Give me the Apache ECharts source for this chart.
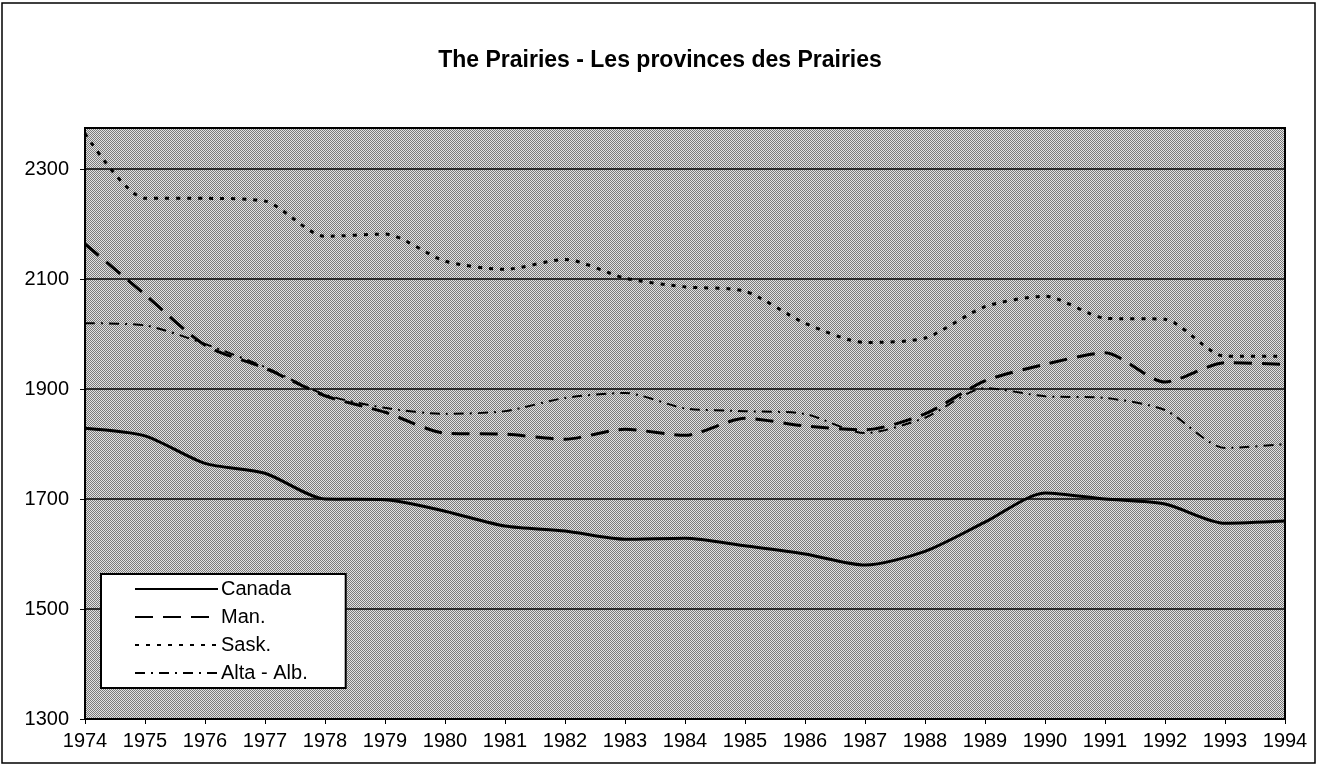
<!DOCTYPE html>
<html>
<head>
<meta charset="utf-8">
<script src="https://cdn.jsdelivr.net/npm/echarts@6/dist/echarts.min.js"></script>
<style>
  html, body { margin: 0; padding: 0; background: #fff; }
  #chart { width: 1320px; height: 777px; }
</style>
</head>
<body>
<div id="chart"></div>
<script>
const years = ['1974', '1975', '1976', '1977', '1978', '1979', '1980', '1981', '1982', '1983', '1984',
  '1985', '1986', '1987', '1988', '1989', '1990', '1991', '1992', '1993', '1994']

const canada = [1829, 1815, 1765, 1747, 1700, 1699, 1678, 1651, 1642, 1627, 1629,
  1615, 1600, 1580, 1605, 1658, 1711, 1700, 1691, 1656, 1660]
const man = [2164, 2072, 1980, 1938, 1888, 1858, 1820, 1818, 1809, 1827, 1816,
  1847, 1833, 1826, 1855, 1915, 1945, 1966, 1913, 1948, 1945]
const sask = [2365, 2247, 2247, 2242, 2178, 2182, 2133, 2118, 2136, 2102, 2086,
  2078, 2020, 1985, 1993, 2050, 2069, 2029, 2027, 1960, 1960]
const alta = [2020, 2016, 1982, 1940, 1890, 1866, 1855, 1860, 1884, 1893, 1865,
  1860, 1855, 1820, 1848, 1902, 1887, 1884, 1862, 1793, 1800]

const yTicks = [1300, 1500, 1700, 1900, 2100, 2300]

// halftone-ish fill for the plot area
function makePattern() {
  const c = document.createElement('canvas')
  c.width = 2
  c.height = 2
  const ctx = c.getContext('2d')
  ctx.fillStyle = '#e2e2e2'
  ctx.fillRect(0, 0, 2, 2)
  ctx.fillStyle = '#7a7a7a'
  ctx.fillRect(0, 0, 1, 1)
  ctx.fillRect(1, 1, 1, 1)
  return c
}

const chart = echarts.init(document.getElementById('chart'))

const font = 'Liberation Sans, Arial, sans-serif'

function lineSeries(name, data, width, type) {
  return {
    name: name,
    type: 'line',
    data: data,
    smooth: 0.25,
    symbol: 'none',
    lineStyle: { color: '#000', width: width, type: type },
    itemStyle: { color: '#000' },
    z: 3
  }
}

chart.setOption({
  animation: false,
  backgroundColor: '#fff',
  title: {
    text: 'The Prairies - Les provinces des Prairies',
    left: 'center',
    top: 44,
    textStyle: { fontFamily: font, fontSize: 23, fontWeight: 'bold', color: '#000' }
  },
  graphic: [{
    type: 'rect',
    shape: { x: 2, y: 3, width: 1313, height: 760 },
    style: { fill: 'none', stroke: '#000', lineWidth: 1.5 },
    silent: true
  }],
  legend: {
    orient: 'vertical',
    left: 101,
    top: 574,
    padding: [5, 38, 5, 33],
    itemWidth: 83,
    itemHeight: 18,
    itemGap: 8,
    backgroundColor: '#fff',
    borderColor: '#000',
    borderWidth: 2,
    borderRadius: 0,
    itemStyle: { opacity: 0 },
    textStyle: { fontFamily: font, fontSize: 20, color: '#000', padding: [0, 0, 0, -2] },
    data: ['Canada', 'Man.', 'Sask.', 'Alta - Alb.']
  },
  grid: {
    left: 85,
    right: 35,
    top: 128,
    bottom: 58,
    show: true,
    backgroundColor: { image: makePattern(), repeat: 'repeat' },
    borderColor: '#000',
    borderWidth: 2
  },
  xAxis: {
    type: 'category',
    data: years,
    boundaryGap: false,
    axisLine: { lineStyle: { color: '#000', width: 1.5 } },
    axisTick: { show: true, length: 5, interval: 0, lineStyle: { color: '#000' } },
    axisLabel: { interval: 0, fontFamily: font, fontSize: 20, color: '#000', margin: 12 },
    splitLine: { show: false }
  },
  yAxis: {
    type: 'value',
    min: 1300,
    max: 2375,
    interval: 200,
    axisLine: { show: true, lineStyle: { color: '#000', width: 1.5 } },
    axisTick: { show: true, length: 5, lineStyle: { color: '#000' } },
    axisLabel: {
      fontFamily: font,
      fontSize: 20,
      color: '#000',
      margin: 16,
      showMaxLabel: false,
      formatter: function (v) { return yTicks.indexOf(v) >= 0 ? String(v) : '' }
    },
    splitLine: { show: true, lineStyle: { color: '#000', width: 1.5 } }
  },
  series: [
    lineSeries('Canada', canada, 3, 'solid'),
    lineSeries('Man.', man, 3, [18, 10]),
    lineSeries('Sask.', sask, 3, [4, 7]),
    lineSeries('Alta - Alb.', alta, 2, [10, 6, 2, 6])
  ]
})
</script>
</body>
</html>
